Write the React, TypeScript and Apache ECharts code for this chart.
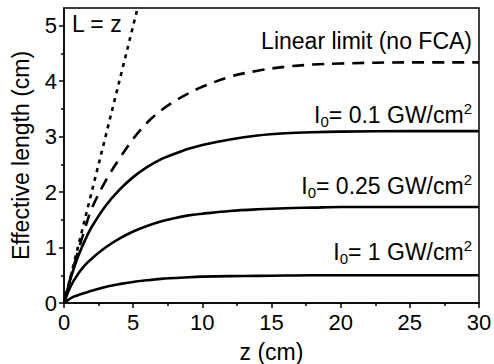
import React, { useEffect, useRef } from "react";
import * as echarts from "echarts";

const zValues = [0, 0.5, 1, 1.5, 2, 3, 4, 5, 6, 7, 8, 9, 10, 12, 14, 16, 18, 20, 25, 30];
const linearLimit = [0, 0.48, 0.92, 1.33, 1.7, 2.2, 2.6, 2.96, 3.25, 3.47, 3.64, 3.78, 3.9, 4.08, 4.19, 4.26, 4.3, 4.32, 4.34, 4.34];
const i01 = [0, 0.46, 0.83, 1.12, 1.37, 1.75, 2.04, 2.27, 2.45, 2.59, 2.69, 2.78, 2.85, 2.95, 3.02, 3.06, 3.08, 3.09, 3.1, 3.1];
const i025 = [0, 0.31, 0.52, 0.68, 0.8, 1.0, 1.16, 1.29, 1.39, 1.47, 1.53, 1.58, 1.61, 1.66, 1.69, 1.71, 1.72, 1.73, 1.73, 1.73];
const i1 = [0, 0.09, 0.14, 0.18, 0.22, 0.29, 0.34, 0.38, 0.41, 0.435, 0.45, 0.465, 0.475, 0.485, 0.49, 0.495, 0.5, 0.5, 0.5, 0.5];
const lEqualsZ = [0, 6];

const yMajorTicks = [0, 1, 2, 3, 4, 5];
const yMinorTicks = [0.5, 1.5, 2.5, 3.5, 4.5];
const xMax = 30;
const yMax = 5.32;

const FONT = "'Liberation Sans', Arial, sans-serif";

const pairs = (ys: number[]) => zValues.map((z, i) => [z, ys[i]]);

export default function App() {
  const ref = useRef<HTMLDivElement>(null);
  useEffect(() => {
    document.body.style.margin = "0";
    if (!ref.current) return;
    const chart = echarts.init(ref.current, undefined, { renderer: "svg" });
    const rich = {
      m: { fontSize: 23, lineHeight: 28, fontFamily: FONT, color: "#000", verticalAlign: "middle" },
      sub: { fontSize: 15, lineHeight: 15, fontFamily: FONT, color: "#000", verticalAlign: "bottom" },
      sup: { fontSize: 15, lineHeight: 15, fontFamily: FONT, color: "#000", verticalAlign: "top" },
    };
    const intensityLabel = (txt: string, y: number) => ({
      type: "text",
      right: 22,
      top: y,
      style: {
        text: `{m|I}{sub|0}{m|= ${txt} GW/cm}{sup|2}`,
        rich,
      },
    });
    const line = (data: number[][], lineType: any, name: string) => ({
      type: "line",
      name,
      data,
      showSymbol: false,
      symbol: "none",
      smooth: 0.35,
      clip: true,
      lineStyle: { color: "#000", width: 2.6, type: lineType, cap: "butt" },
    });
    const axisFont = { fontSize: 22, fontFamily: FONT, color: "#000" };
    const nameFont = { fontSize: 23, fontFamily: FONT, color: "#000" };
    chart.setOption({
      animation: false,
      grid: { left: 64, right: 15, top: 8, bottom: 61, show: true, borderColor: "#000", borderWidth: 1.5, outerBoundsMode: "none" },
      xAxis: {
        type: "value",
        min: 0,
        max: xMax,
        interval: 5,
        name: "z (cm)",
        nameLocation: "middle",
        nameGap: 37,
        nameTextStyle: nameFont,
        axisLine: { lineStyle: { color: "#000", width: 1.5 } },
        axisTick: { length: 5, lineStyle: { color: "#000", width: 1.5 } },
        minorTick: { show: true, splitNumber: 2, length: 3, lineStyle: { color: "#000", width: 1.5 } },
        splitLine: { show: false },
        axisLabel: { ...axisFont, margin: 8 },
      },
      yAxis: [
        {
          type: "value",
          min: 0,
          max: yMax,
          name: "Effective length (cm)",
          nameLocation: "middle",
          nameGap: 32,
          nameTextStyle: nameFont,
          axisLine: { lineStyle: { color: "#000", width: 1.5 } },
          axisTick: { length: 5, customValues: yMajorTicks, lineStyle: { color: "#000", width: 1.5 } },
          splitLine: { show: false },
          axisLabel: { ...axisFont, margin: 7, customValues: yMajorTicks },
        },
        {
          type: "value",
          min: 0,
          max: yMax,
          position: "left",
          axisLine: { show: false },
          axisTick: { length: 3, customValues: yMinorTicks, lineStyle: { color: "#000", width: 1.5 } },
          splitLine: { show: false },
          axisLabel: { show: false },
        },
      ],
      series: [
        line([[lEqualsZ[0], lEqualsZ[0]], [lEqualsZ[1], lEqualsZ[1]]], [4, 5], "L = z"),
        line(pairs(linearLimit), [12, 8], "Linear limit"),
        line(pairs(i01), "solid", "0.1"),
        line(pairs(i025), "solid", "0.25"),
        line(pairs(i1), "solid", "1"),
      ],
      graphic: [
        { type: "text", left: 72, top: 12, style: { text: "L = z", fontSize: 23, fontFamily: FONT, fill: "#000" } },
        { type: "text", right: 22, top: 29, style: { text: "Linear limit (no FCA)", fontSize: 23, fontFamily: FONT, fill: "#000" } },
        intensityLabel("0.1", 101),
        intensityLabel("0.25", 172),
        intensityLabel("1", 238),
      ],
    });
    return () => chart.dispose();
  }, []);
  return <div ref={ref} style={{ width: 494, height: 364 }} />;
}
